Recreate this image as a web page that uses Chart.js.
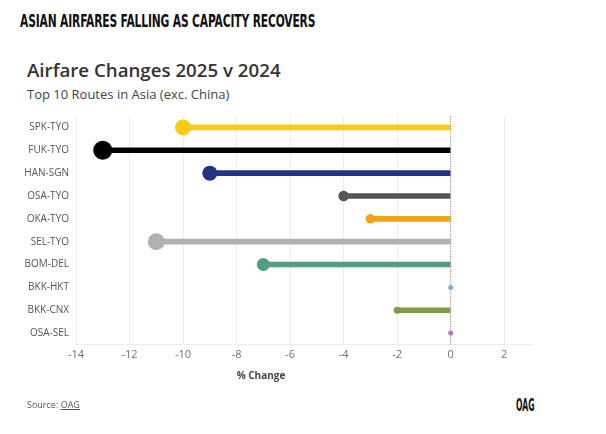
<!DOCTYPE html>
<html lang="en">
<head>
<meta charset="UTF-8">
<title>Airfare Changes 2025 v 2024</title>
<script src="https://cdn.jsdelivr.net/npm/chart.js"></script>
<style>
    body { margin: 0; background: #fff; width: 606px; height: 434px; position: relative; overflow: hidden; font-family: "Open Sans", sans-serif; }
    .kicker { position: absolute; left: 20px; top: 11px; font-family: "DejaVu Sans Condensed", sans-serif; font-weight: bold; font-size: 17px; color: #111; transform: scaleX(0.70); transform-origin: left; white-space: nowrap; letter-spacing: -0.2px; }
    h1 { position: absolute; left: 27px; top: 57px; margin: 0; font-size: 18.7px; font-weight: 600; color: #333; }
    .sub { position: absolute; left: 27px; top: 85px; font-size: 13px; color: #444; }
    .chart-box { position: absolute; left: 0; top: 103px; width: 606px; height: 270px; }
    .axis-title { position: absolute; left: 261px; top: 368px; transform: translateX(-50%); font-size: 10px; font-weight: bold; color: #444; white-space: nowrap; }
    .source { position: absolute; left: 27px; top: 398px; font-size: 9px; color: #555; }
    .source u { text-decoration: underline; }
    .logo { position: absolute; left: 516px; top: 395px; font-family: "DejaVu Sans Condensed", sans-serif; font-weight: bold; font-size: 17px; color: #111; transform: scaleX(0.5); transform-origin: left; }
</style>
</head>
<body>
<div class="kicker">ASIAN AIRFARES FALLING AS CAPACITY RECOVERS</div>
<h1>Airfare Changes 2025 v 2024</h1>
<div class="sub">Top 10 Routes in Asia (exc. China)</div>
<div class="chart-box"><canvas id="chart"></canvas></div>
<div class="axis-title">% Change</div>
<div class="source">Source: <u>OAG</u></div>
<div class="logo">OAG</div>

<script>
    // data
    const routes = ["SPK-TYO", "FUK-TYO", "HAN-SGN", "OSA-TYO", "OKA-TYO", "SEL-TYO", "BOM-DEL", "BKK-HKT", "BKK-CNX", "OSA-SEL"];
    const changes = [-10, -13, -9, -4, -3, -11, -7, 0, -2, 0];
    const xTicks = [-14, -12, -10, -8, -6, -4, -2, 0, 2];

    const colors = ["#f5cd14", "#000000", "#243285", "#555555", "#f0a21c", "#b1b1b1", "#4f9d83", "#7eb0dc", "#7f9b4f", "#b07bb5"];
    const dotRadius = [8, 9.5, 7.5, 5.3, 4.8, 8.5, 6.5, 2.5, 3.5, 2.5];

    // dotted line at zero, drawn over the stems
    const zeroLine = {
        id: "zeroLine",
        afterDatasetDraw(chart, args) {
            if (args.meta.type !== "bar") return;
            const ctx = chart.ctx;
            const x = chart.scales.x.getPixelForValue(0);
            ctx.save();
            ctx.strokeStyle = "#8a8a8a";
            ctx.lineWidth = 1;
            ctx.setLineDash([1, 1.5]);
            ctx.beginPath();
            ctx.moveTo(x, chart.chartArea.top);
            ctx.lineTo(x, chart.chartArea.bottom);
            ctx.stroke();
            ctx.restore();
        }
    };

    new Chart(document.getElementById("chart"), {
        type: "bar",
        data: {
            labels: routes,
            datasets: [{
                type: "line",
                data: changes,
                showLine: false,
                pointRadius: dotRadius,
                pointHoverRadius: dotRadius,
                pointBackgroundColor: colors,
                pointBorderWidth: 0,
                order: 0
            }, {
                type: "bar",
                data: changes.map(v => [v, 0]),
                backgroundColor: colors,
                barThickness: 5,
                borderSkipped: false,
                order: 1
            }]
        },
        options: {
            indexAxis: "y",
            responsive: true,
            maintainAspectRatio: false,
            animation: false,
            layout: { padding: { top: 0, right: 75, left: 0, bottom: 0 } },
            plugins: { legend: { display: false }, tooltip: { enabled: false } },
            scales: {
                x: {
                    type: "linear",
                    min: -14,
                    max: 3,
                    afterBuildTicks: axis => { axis.ticks = xTicks.map(v => ({ value: v })); },
                    afterFit: axis => { axis.height = 28.5; },
                    grid: { color: "#ececec", drawTicks: false },
                    border: { display: true, color: "#ececec" },
                    ticks: { color: "#707070", font: { family: "Open Sans", size: 11 }, padding: 4 }
                },
                y: {
                    grid: { display: false, drawTicks: false },
                    border: { display: false },
                    afterFit: axis => { axis.width = 76; },
                    ticks: { color: "#555", font: { family: "Open Sans", size: 10 }, padding: 7 }
                }
            }
        },
        plugins: [zeroLine]
    });
</script>
</body>
</html>
